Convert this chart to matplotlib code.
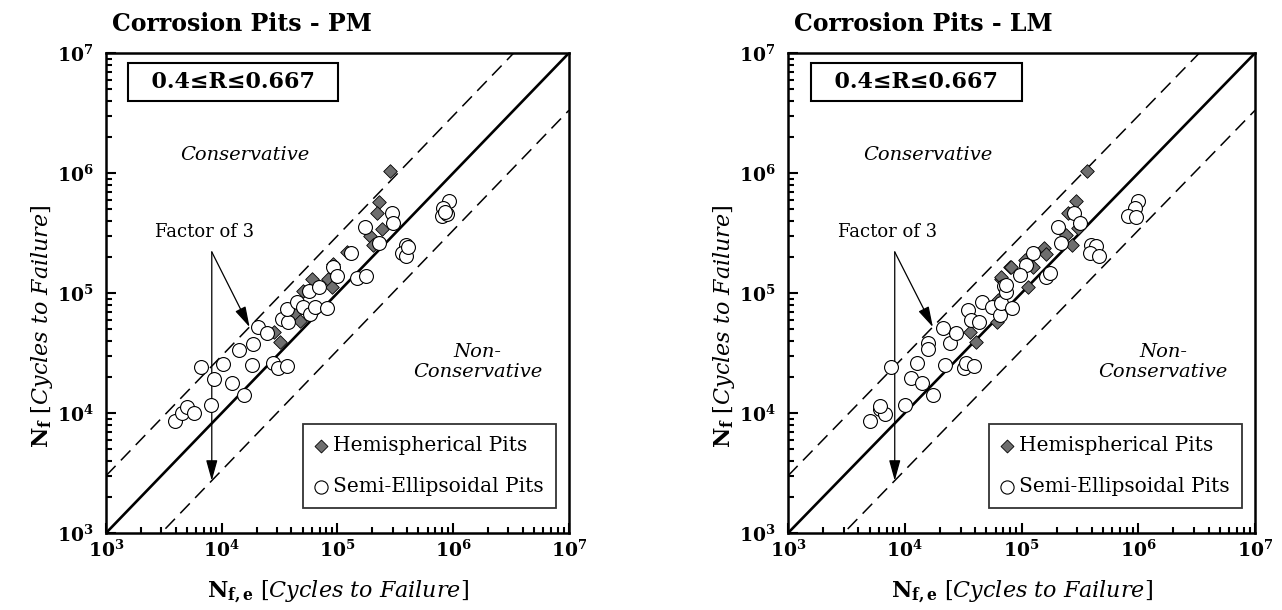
import numpy as np
import matplotlib
matplotlib.use('Agg')
import matplotlib.pyplot as plt
from matplotlib.ticker import FuncFormatter, LogLocator

plt.rcParams['font.family'] = 'DejaVu Serif'
plt.rcParams['mathtext.fontset'] = 'dejavuserif'

# Panel PM
pm_hemi_x = [284000, 229000, 218000, 241000, 191000, 204000, 120000, 92000, 83400, 89100,
             59800, 50700, 43000, 47400, 28200, 31800]
pm_hemi_y = [1045000, 577000, 461000, 341000, 299000, 251000, 221000, 175000, 132000, 113000,
             132000, 103000, 67800, 58700, 47600, 39300]
pm_semi_x = [3950, 4510, 5050, 5750, 6580, 8020, 8630, 10300, 12300, 14200,
             15700, 18400, 18700, 20700, 24400, 27900, 30400, 36400, 33400, 37600,
             36900, 44500, 50000, 57800, 64000, 56800, 69200, 80700, 92000, 100000,
             130000, 148000, 175000, 173000, 230000, 298000, 303000, 391000, 358000, 391000,
             409000, 925000, 820000, 794000, 877000, 849000]
pm_semi_y = [8630, 9930, 11300, 9930, 24300, 11700, 19300, 25600, 17900, 33500,
             14100, 25100, 37600, 52400, 46700, 25900, 23500, 24800, 60400, 57700,
             73100, 84700, 76900, 66400, 76900, 104000, 113000, 75500, 166000, 139000,
             214000, 134000, 139000, 357000, 262000, 467000, 381000, 251000, 214000, 203000,
             243000, 585000, 508000, 439000, 455000, 476000]

# Panel LM
lm_hemi_x = [35900, 40400, 67000, 80000, 62700, 61400, 363000, 290000, 249000, 304000,
             242000, 272000, 157000, 163000, 106000, 81500, 125000, 113000, 67000]
lm_hemi_y = [47600, 39300, 132000, 164000, 87500, 57700, 1045000, 587000, 461000, 346000,
             304000, 251000, 236000, 211000, 188000, 166000, 166000, 113000, 137000]
lm_semi_x = [4990, 6100, 6730, 6170, 7690, 10000, 11200, 12600, 14100, 17500,
             15700, 15700, 21300, 22000, 24300, 27700, 32100, 33300, 39100, 34900,
             36800, 43400, 46000, 55500, 65500, 66800, 71400, 72900, 83200, 991000,
             929000, 815000, 962000, 395000, 437000, 383000, 459000, 284000, 314000, 205000,
             219000, 125000, 110000, 96200, 74000, 163000, 174000]
lm_semi_y = [8570, 10900, 9820, 11400, 24000, 11700, 19500, 25900, 17900, 14100,
             38100, 34000, 50800, 25100, 38100, 46700, 23500, 26200, 24700, 72100,
             59600, 57700, 84700, 76900, 65600, 82000, 114000, 101000, 74500, 585000,
             508000, 439000, 433000, 251000, 247000, 214000, 203000, 461000, 385000, 357000,
             262000, 214000, 171000, 141000, 117000, 137000, 146000]

titles = ['Corrosion Pits - PM', 'Corrosion Pits - LM']
r_range = '0.4≤R≤0.667'
legend_labels = ['Hemispherical Pits', 'Semi-Ellipsoidal Pits']

fig = plt.figure(figsize=(12.82, 6.10), dpi=100)
ax1 = fig.add_axes([0.0827, 0.1262, 0.3611, 0.7869])
ax2 = fig.add_axes([0.6147, 0.1262, 0.3643, 0.7869])

paneles = [(ax1, pm_hemi_x, pm_hemi_y, pm_semi_x, pm_semi_y, titles[0]),
           (ax2, lm_hemi_x, lm_hemi_y, lm_semi_x, lm_semi_y, titles[1])]

fmt = FuncFormatter(lambda v, p: r'$\mathbf{10^{%d}}$' % int(round(np.log10(v))))
lim = np.array([1e3, 1e7])

for ax, hx, hy, sx, sy, titulo in paneles:
    ax.set_xscale('log')
    ax.set_yscale('log')
    ax.set_xlim(1e3, 1e7)
    ax.set_ylim(1e3, 1e7)

    # Lineas de referencia (1:1 y factor de 3)
    ax.plot(lim, lim, color='black', lw=1.9, zorder=2)
    ax.plot(lim, lim * 3, color='black', lw=1.1, dashes=(9, 5), zorder=2)
    ax.plot(lim, lim / 3, color='black', lw=1.1, dashes=(9, 5), zorder=2)

    ax.scatter(hx, hy, marker='D', s=48, color='#6e6e6e', edgecolor='black',
               linewidth=0.6, zorder=3, label=legend_labels[0])
    ax.scatter(sx, sy, marker='o', s=100, color='white', edgecolor='black',
               linewidth=0.8, zorder=4, label=legend_labels[1])

    for s in ax.spines.values():
        s.set_linewidth(1.8)
    ax.xaxis.set_major_locator(LogLocator(base=10, numticks=10))
    ax.yaxis.set_major_locator(LogLocator(base=10, numticks=10))
    ax.xaxis.set_minor_locator(LogLocator(base=10, subs=np.arange(2, 10), numticks=10))
    ax.yaxis.set_minor_locator(LogLocator(base=10, subs=np.arange(2, 10), numticks=10))
    ax.xaxis.set_major_formatter(fmt)
    ax.yaxis.set_major_formatter(fmt)
    ax.tick_params(which='both', direction='in', top=False, right=False, width=1.5)
    ax.tick_params(which='major', length=7, labelsize=13.5)
    ax.tick_params(axis='x', which='major', pad=4.5)
    ax.tick_params(axis='y', which='major', pad=9)
    ax.tick_params(which='minor', length=4)

    ax.set_xlabel(r'$\mathbf{N}_{\mathbf{f,e}}\ \mathit{[Cycles\ to\ Failure]}$', fontsize=16)
    ax.set_ylabel(r'$\mathbf{N}_{\mathbf{f}}\ \mathit{[Cycles\ to\ Failure]}$', fontsize=16)
    ax.xaxis.set_label_coords(0.5, -0.095)
    ax.yaxis.set_label_coords(-0.11, 0.43)

    ax.text(0.012, 1.035, titulo, transform=ax.transAxes, fontsize=17,
            fontweight='bold', ha='left', va='bottom')

    ax.text(0.275, 0.94, '  ' + r_range + '  ', transform=ax.transAxes, fontsize=16,
            fontweight='bold', ha='center', va='center',
            bbox=dict(boxstyle='square,pad=0.35', facecolor='white',
                      edgecolor='black', linewidth=1.5))

    ax.text(0.30, 0.7875, 'Conservative', transform=ax.transAxes, fontsize=14,
            style='italic', ha='center', va='center')
    ax.text(0.803, 0.356, 'Non-\nConservative', transform=ax.transAxes, fontsize=14,
            style='italic', ha='center', va='center', linespacing=1.1)

    # Flechas "Factor of 3"
    origen = (8.2e3, 2.2e5)
    ax.text(7.1e3, 3.2e5, 'Factor of 3', fontsize=13, ha='center', va='center')
    ax.annotate('', xy=(1.74e4, 5.2e4), xytext=origen,
                arrowprops=dict(arrowstyle='-|>,head_length=0.9,head_width=0.25',
                                color='black', lw=0.9, shrinkA=0, shrinkB=0,
                                mutation_scale=14))
    ax.annotate('', xy=(8.2e3, 2.73e3), xytext=origen,
                arrowprops=dict(arrowstyle='-|>,head_length=0.9,head_width=0.25',
                                color='black', lw=0.9, shrinkA=0, shrinkB=0,
                                mutation_scale=14))

    leg = ax.legend(loc='lower right', bbox_to_anchor=(0.972, 0.052), borderaxespad=0,
                    fontsize=14.5, frameon=True, fancybox=False, edgecolor='black',
                    handlelength=0.6, handletextpad=0.3, borderpad=0.6,
                    labelspacing=1.1, markerscale=0.95)
    leg.get_frame().set_linewidth(1.3)

fig.savefig('out.png', dpi=100)
